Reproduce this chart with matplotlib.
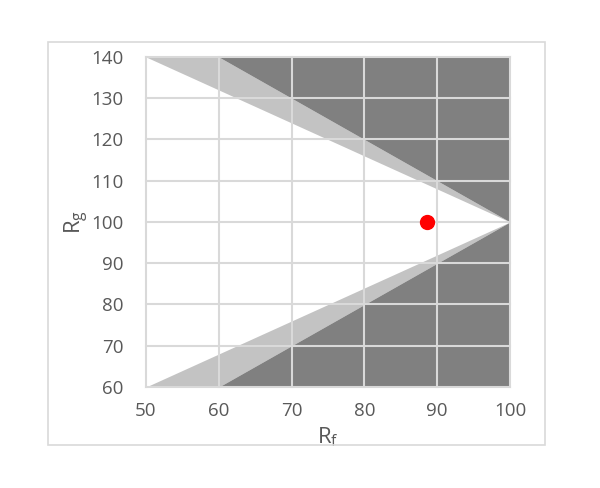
import matplotlib.pyplot as plt
from matplotlib.patches import Rectangle

# boundary lines of the shaded regions
rf = [50, 60, 100]
upper_inner = [140, 132, 100]
upper_outer = [140, 140, 100]
lower_inner = [60, 68, 100]
lower_outer = [60, 60, 100]

point_rf = [88.6]
point_rg = [100]

xticks = [50, 60, 70, 80, 90, 100]
yticks = [60, 70, 80, 90, 100, 110, 120, 130, 140]

dark = "#808080"
light = "#c3c3c3"
grid_c = "#d9d9d9"
text_c = "#595959"

fig = plt.figure(figsize=(6, 4.88), dpi=100)
plt.rcParams["font.family"] = ["Open Sans", "DejaVu Sans"]

# chart border
fig.patches.append(Rectangle((0.08, 0.088), 0.828, 0.826, transform=fig.transFigure,
                             fill=False, edgecolor=grid_c, linewidth=1.2))

ax = fig.add_axes([0.2433, 0.207, 0.6067, 0.6763])

ax.fill_between(rf, upper_inner, upper_outer, color=light, linewidth=0)
ax.fill_between(rf, upper_outer, 140, color=dark, linewidth=0)
ax.fill_between(rf, lower_outer, lower_inner, color=light, linewidth=0)
ax.fill_between(rf, 60, lower_outer, color=dark, linewidth=0)

for x in xticks:
    ax.axvline(x, color=grid_c, linewidth=1.5, zorder=2, clip_on=False)
for y in yticks:
    ax.axhline(y, color=grid_c, linewidth=1.5, zorder=2, clip_on=False)

ax.plot(point_rf, point_rg, "o", color="red", markersize=10, zorder=3)

ax.set_xlim(50, 100)
ax.set_ylim(60, 140)
ax.set_xticks(xticks)
ax.set_yticks(yticks)
ax.tick_params(length=0, labelsize=13.5, labelcolor=text_c, pad=11)
ax.tick_params(axis="y", pad=16)
for s in ax.spines.values():
    s.set_visible(False)

ax.set_xlabel("R$_\\mathregular{f}$", fontsize=16, color=text_c, labelpad=0)
ax.set_ylabel("R$_\\mathregular{g}$", fontsize=16, color=text_c, labelpad=0)
ax.xaxis.set_label_coords(0.5, -0.115)
ax.yaxis.set_label_coords(-0.15, 0.5)

plt.savefig("out.png", dpi=100)
